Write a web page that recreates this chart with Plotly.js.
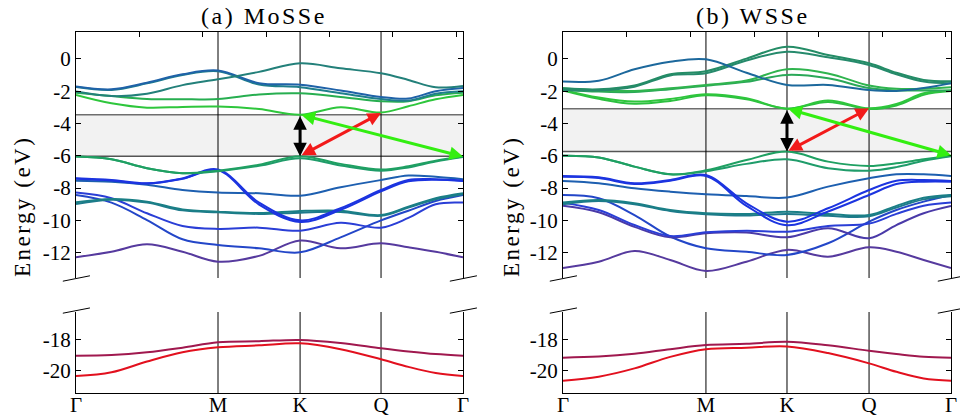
<!DOCTYPE html>
<html>
<head>
<meta charset="utf-8">
<script src="https://cdn.plot.ly/plotly-3.0.1.min.js"></script>
<style>
html,body{margin:0;padding:0;background:#fff;}
#plot{width:960px;height:419px;}
.annotation-text{letter-spacing:2.5px;}
</style>
</head>
<body>
<div id="plot"></div>
<script>
// ---------- high-symmetry points (path length, 1/Angstrom) ----------
const kLabels = ['Γ','M','K','Q','Γ'];
const kA = [0, 1.121, 1.769, 2.408, 3.055];   // MoSSe
const kB = [0, 1.120, 1.755, 2.398, 3.040];   // WSSe
const topTicks = [0.5, 1.0, 1.5, 2.0, 2.5, 3.0];

// ---------- MoSSe bands (eV) at sample k-points ----------
// k samples: Γ, ΓM/4, ΓM/2, 3ΓM/4, M, MK/2, K, KQ/2, Q, QΓ/3, 2QΓ/3, Γ
const aC1  = [-2.23,-2.75,-3.02,-2.97,-2.95,-3.10,-3.45,-2.99,-3.32,-2.93,-2.50,-2.23];
const aC2  = [-2.09,-2.30,-2.48,-2.50,-2.48,-2.20,-2.13,-2.35,-2.62,-2.62,-2.25,-2.09];
const aCA  = [-1.70,-1.88,-1.47,-0.95,-0.72,-1.50,-1.60,-1.95,-2.35,-2.45,-2.00,-1.80];
const aCA2 = [-1.74,-1.92,-1.51,-0.99,-0.76,-1.58,-1.75,-2.12,-2.48,-2.58,-2.15,-2.00];
const aCB  = [-2.02,-2.30,-2.15,-1.62,-1.26,-0.80,-0.27,-0.58,-0.89,-1.30,-1.75,-1.67];
const aV1  = [-6.05,-6.22,-6.77,-7.08,-6.92,-6.55,-6.02,-6.50,-6.85,-6.65,-6.30,-6.05];
const aV1b = [-6.05,-6.22,-6.77,-7.08,-6.95,-6.62,-6.15,-6.60,-6.92,-6.72,-6.35,-6.08];
const aV2  = [-7.39,-7.50,-7.70,-7.40,-6.85,-8.90,-10.00,-9.25,-8.12,-7.50,-7.45,-7.54];
const aV2b = [-7.42,-7.53,-7.72,-7.42,-6.90,-9.02,-10.10,-9.35,-8.20,-7.58,-7.48,-7.56];
const aV3  = [-7.54,-7.60,-7.79,-8.12,-8.28,-8.32,-8.47,-7.95,-7.50,-7.22,-7.30,-7.45];
const aV4  = [-8.28,-8.63,-9.56,-10.35,-10.53,-10.45,-10.64,-10.15,-10.45,-9.85,-9.00,-8.90];
const aV5  = [-8.43,-8.90,-9.98,-11.17,-11.52,-11.73,-11.98,-11.05,-10.00,-9.40,-8.80,-8.43];
const aV6  = [-8.88,-8.67,-8.84,-9.32,-9.46,-9.55,-9.42,-9.40,-9.67,-9.15,-8.63,-8.32];
const aV6b = [-8.98,-8.72,-8.90,-9.38,-9.50,-9.60,-9.52,-9.48,-9.72,-9.20,-8.70,-8.38];
const aV7  = [-12.29,-11.94,-11.48,-11.94,-12.56,-12.20,-11.25,-11.73,-11.42,-11.67,-11.95,-12.29];
const aL1  = [-19.02,-18.98,-18.80,-18.50,-18.15,-18.08,-18.00,-18.20,-18.54,-18.75,-18.92,-19.02];
const aL2  = [-20.35,-20.10,-19.40,-18.80,-18.48,-18.35,-18.22,-18.60,-19.26,-19.75,-20.15,-20.35];

// ---------- WSSe bands (eV) ----------
const bC4  = [-1.92,-2.39,-2.64,-2.48,-2.19,-2.44,-3.08,-2.58,-3.06,-2.79,-2.13,-1.96];
const bC4b = [-1.95,-2.47,-2.78,-2.60,-2.25,-2.50,-3.08,-2.66,-3.10,-2.88,-2.22,-1.99];
const bC3  = [-1.82,-1.95,-1.98,-1.82,-1.61,-1.34,-0.64,-0.90,-1.65,-1.85,-1.85,-1.76];
const bC3b = [-1.92,-2.02,-2.05,-1.87,-1.66,-1.42,-0.99,-1.20,-1.80,-1.95,-1.95,-1.96];
const bC2  = [-1.82,-1.88,-1.65,-0.95,-0.76,0.02,0.76,0.25,-0.27,-0.85,-1.30,-1.38];
const bC2b = [-1.90,-1.95,-1.72,-1.02,-0.88,-0.10,0.45,0.10,-0.37,-0.95,-1.40,-1.50];
const bC1  = [-1.40,-1.35,-0.64,-0.17,-0.02,-0.85,-1.61,-1.61,-1.92,-1.98,-1.80,-1.50];
const bV1  = [-6.00,-6.10,-6.67,-7.15,-6.90,-6.26,-5.74,-6.36,-6.63,-6.46,-6.22,-6.00];
const bV1b = [-6.00,-6.10,-6.67,-7.15,-6.95,-6.50,-6.22,-6.77,-6.92,-6.70,-6.30,-6.02];
const bV2  = [-7.25,-7.33,-7.70,-7.50,-7.19,-8.94,-10.08,-9.25,-8.12,-7.55,-7.50,-7.56];
const bV2b = [-7.30,-7.38,-7.75,-7.55,-7.25,-9.10,-10.30,-9.45,-8.43,-7.75,-7.60,-7.60];
const bV3  = [-7.56,-7.70,-8.01,-8.22,-8.38,-8.49,-8.59,-7.91,-7.39,-7.15,-7.15,-7.25];
const bV4  = [-8.43,-8.63,-9.67,-11.00,-11.73,-11.95,-12.14,-11.42,-10.08,-9.36,-8.84,-8.43];
const bV5  = [-8.90,-9.36,-10.29,-10.97,-10.74,-10.64,-10.70,-10.35,-10.20,-9.60,-9.10,-8.90];
const bV5b = [-9.10,-9.50,-10.40,-11.05,-10.80,-10.75,-11.05,-10.49,-11.11,-10.29,-9.56,-9.11];
const bV6  = [-8.90,-8.74,-8.94,-9.36,-9.56,-9.60,-9.46,-9.60,-9.67,-9.10,-8.60,-8.43];
const bV6b = [-9.00,-8.80,-9.00,-9.42,-9.62,-9.70,-9.60,-9.72,-9.75,-9.20,-8.70,-8.50];
const bV7  = [-12.95,-12.56,-11.90,-12.45,-13.13,-12.56,-11.83,-12.25,-11.67,-11.94,-12.45,-12.95];
const bL1  = [-19.15,-19.08,-18.90,-18.60,-18.33,-18.25,-18.12,-18.35,-18.70,-18.91,-19.09,-19.15];
const bL2  = [-20.65,-20.39,-19.85,-19.10,-18.60,-18.50,-18.42,-18.85,-19.52,-20.07,-20.50,-20.65];

// ---------- band edges (eV): [CBM at K, VBM at K, CB at Q, VB at Γ] ----------
const edgesA = [-3.45, -6.02, -3.35, -6.05];
const edgesB = [-3.08, -5.74, -3.06, -5.96];

// ---------- build ----------
function kgrid(k){
  const f=(a,b,t)=>a+(b-a)*t;
  return [k[0],f(k[0],k[1],.25),f(k[0],k[1],.5),f(k[0],k[1],.75),k[1],f(k[1],k[2],.5),k[2],f(k[2],k[3],.5),k[3],f(k[3],k[4],1/3),f(k[3],k[4],2/3),k[4]];
}
const gA = kgrid(kA), gB = kgrid(kB);

function band(xs, ys, color, xa, ya){
  return {x:xs, y:ys, xaxis:xa, yaxis:ya, type:'scatter', mode:'lines',
    line:{color:color, width:2, shape:'spline', smoothing:1}, hoverinfo:'skip', showlegend:false};
}

const traces = [
  band(gA,aV7,'#563a9e','x','y'),
  band(gA,aV5,'#2346c8','x','y'),
  band(gA,aV4,'#2a3ed6','x','y'),
  band(gA,aV6b,'#1e7a8c','x','y'),
  band(gA,aV6,'#1a7f86','x','y'),
  band(gA,aV3,'#1d5fb0','x','y'),
  band(gA,aV2b,'#1c34e0','x','y'),
  band(gA,aV2,'#1c34e0','x','y'),
  band(gA,aV1b,'#1f9c6a','x','y'),
  band(gA,aV1,'#1fa062','x','y'),
  band(gA,aC1,'#2ec63c','x','y'),
  band(gA,aC2,'#27ae50','x','y'),
  band(gA,aCA2,'#1f7f8c','x','y'),
  band(gA,aCA,'#1f62a8','x','y'),
  band(gA,aCB,'#23807a','x','y'),
  band(gA,aL1,'#a0184e','x2','y2'),
  band(gA,aL2,'#e2101e','x2','y2'),
  band(gB,bV7,'#563a9e','x3','y3'),
  band(gB,bV4,'#2346c8','x3','y3'),
  band(gB,bV5b,'#4a3aa8','x3','y3'),
  band(gB,bV5,'#2a3ed6','x3','y3'),
  band(gB,bV6b,'#1e7a8c','x3','y3'),
  band(gB,bV6,'#1a7f86','x3','y3'),
  band(gB,bV3,'#1d5fb0','x3','y3'),
  band(gB,bV2b,'#1c34e0','x3','y3'),
  band(gB,bV2,'#1c34e0','x3','y3'),
  band(gB,bV1b,'#1f9c6a','x3','y3'),
  band(gB,bV1,'#1fa062','x3','y3'),
  band(gB,bC4b,'#2cc040','x3','y3'),
  band(gB,bC4,'#2ec63c','x3','y3'),
  band(gB,bC3b,'#2aa858','x3','y3'),
  band(gB,bC3,'#2fb44e','x3','y3'),
  band(gB,bC2b,'#268a6c','x3','y3'),
  band(gB,bC2,'#248c66','x3','y3'),
  band(gB,bC1,'#1c689c','x3','y3'),
  band(gB,bL1,'#a0184e','x4','y4'),
  band(gB,bL2,'#e2101e','x4','y4')
];

// ---------- axes ----------
const FONT = 'Liberation Serif, Times New Roman, serif';
const upRange = [-13.57, 1.67], loRange = [-21.45, -16.18];
const upTicks = [-12,-10,-8,-6,-4,-2,0], loTicks = [-20,-18];
const txt = v => v.map(t => String(t));

function topAxis(dom, k, anchor){
  return {domain:dom, range:[k[0],k[4]], anchor:anchor, side:'top', showline:true, linecolor:'#000', linewidth:1,
    ticks:'inside', ticklen:5, tickcolor:'#000', tickvals:topTicks, showticklabels:false,
    showgrid:false, zeroline:false, fixedrange:true};
}
function botAxis(dom, k, anchor){
  return {domain:dom, range:[k[0],k[4]], anchor:anchor, side:'bottom', showline:true, linecolor:'#000', linewidth:1,
    ticks:'', tickvals:k, ticktext:kLabels, tickfont:{size:21, family:FONT, color:'#000'}, ticklabelstandoff:-7,
    showgrid:false, zeroline:false, fixedrange:true};
}
function yAxis(dom, rng, tv, anchor){
  return {domain:dom, range:rng, anchor:anchor, showline:true, linecolor:'#000', linewidth:1, mirror:'ticks',
    ticks:'inside', ticklen:5, tickcolor:'#000', tickvals:tv, ticktext:txt(tv), tickfont:{size:21, family:FONT, color:'#000'},
    ticklabelstandoff:0, showgrid:false, zeroline:false, fixedrange:true};
}

const dxA = [76/960, 463/960], dxB = [563/960, 951/960];
const dyU = [(419-278)/419, (419-32)/419], dyL = [(419-393)/419, (419-312)/419];

// ---------- shapes ----------
const shapes = [];
function panelShapes(k, e, xa, ya, xa2, ya2){
  shapes.push({type:'rect', xref:'x'+(xa==='x'?'':xa.slice(1))+' domain', yref:ya, x0:0, x1:1, y0:e[1], y1:e[0], fillcolor:'#f2f2f2', line:{width:0}, layer:'below'});
  shapes.push({type:'line', xref:xa+' domain', yref:ya, x0:0, x1:1, y0:e[0], y1:e[0], line:{color:'#6e6e6e', width:1.5}, layer:'below'});
  shapes.push({type:'line', xref:xa+' domain', yref:ya, x0:0, x1:1, y0:e[1], y1:e[1], line:{color:'#555', width:1.5}, layer:'below'});
  [k[1],k[2],k[3]].forEach(v=>{
    shapes.push({type:'line', xref:xa, yref:ya+' domain', x0:v, x1:v, y0:0, y1:1, line:{color:'#000', width:1}, layer:'below'});
    shapes.push({type:'line', xref:xa2, yref:ya2+' domain', x0:v, x1:v, y0:0, y1:1, line:{color:'#000', width:1}, layer:'below'});
  });
  [0,1].forEach(c=>{
    shapes.push({type:'line', xref:xa+' domain', yref:ya+' domain', x0:c-0.034, x1:c+0.036, y0:-0.013, y1:0.009, line:{color:'#000', width:1}, layer:'above'});
    shapes.push({type:'line', xref:xa2+' domain', yref:ya2+' domain', x0:c-0.034, x1:c+0.036, y0:0.985, y1:1.05, line:{color:'#000', width:1}, layer:'above'});
  });
}
panelShapes(kA, edgesA, 'x', 'y', 'x2', 'y2');
panelShapes(kB, edgesB, 'x3', 'y3', 'x4', 'y4');

// ---------- annotations ----------
function arrow(xa, ya, x, y, ax, ay, color){
  return {xref:xa, yref:ya, axref:xa, ayref:ya, x:x, y:y, ax:ax, ay:ay, text:'', showarrow:true,
    arrowhead:2, startarrowhead:2, arrowside:'end+start', arrowwidth:3, arrowsize:0.9, startarrowsize:0.9,
    arrowcolor:color, standoff:0, startstandoff:0};
}
const annotations = [
  {xref:'paper', yref:'paper', x:264/960, y:(419-16)/419, text:'(a) MoSSe', showarrow:false, xanchor:'center', yanchor:'middle', font:{size:24, family:FONT, color:'#000'}},
  {xref:'paper', yref:'paper', x:753/960, y:(419-16)/419, text:'(b) WSSe', showarrow:false, xanchor:'center', yanchor:'middle', font:{size:24, family:FONT, color:'#000'}},
  {xref:'paper', yref:'paper', x:22/960, y:(419-207)/419, text:'Energy (eV)', textangle:-90, showarrow:false, xanchor:'center', yanchor:'middle', font:{size:23, family:FONT, color:'#000'}},
  {xref:'paper', yref:'paper', x:511/960, y:(419-207)/419, text:'Energy (eV)', textangle:-90, showarrow:false, xanchor:'center', yanchor:'middle', font:{size:23, family:FONT, color:'#000'}},
  arrow('x','y', kA[2], edgesA[1], kA[2], edgesA[0], '#000'),
  arrow('x','y', kA[3], edgesA[2], kA[2], edgesA[1], '#f21a1a'),
  arrow('x','y', kA[4], edgesA[3], kA[2], edgesA[0], '#33ee11'),
  arrow('x3','y3', kB[2], edgesB[1], kB[2], edgesB[0], '#000'),
  arrow('x3','y3', kB[3], edgesB[2], kB[2], edgesB[1], '#f21a1a'),
  arrow('x3','y3', kB[4], edgesB[3], kB[2], edgesB[0], '#33ee11')
];

const layout = {
  width:960, height:419, margin:{l:0,r:0,t:0,b:0},
  paper_bgcolor:'#fff', plot_bgcolor:'#fff',
  font:{family:FONT, color:'#000'},
  showlegend:false,
  xaxis: topAxis(dxA, kA, 'y'),
  yaxis: yAxis(dyU, upRange, upTicks, 'x'),
  xaxis2: botAxis(dxA, kA, 'y2'),
  yaxis2: yAxis(dyL, loRange, loTicks, 'x2'),
  xaxis3: topAxis(dxB, kB, 'y3'),
  yaxis3: yAxis(dyU, upRange, upTicks, 'x3'),
  xaxis4: botAxis(dxB, kB, 'y4'),
  yaxis4: yAxis(dyL, loRange, loTicks, 'x4'),
  shapes: shapes,
  annotations: annotations
};

Plotly.newPlot('plot', traces, layout, {staticPlot:true, displayModeBar:false});
</script>
</body>
</html>
